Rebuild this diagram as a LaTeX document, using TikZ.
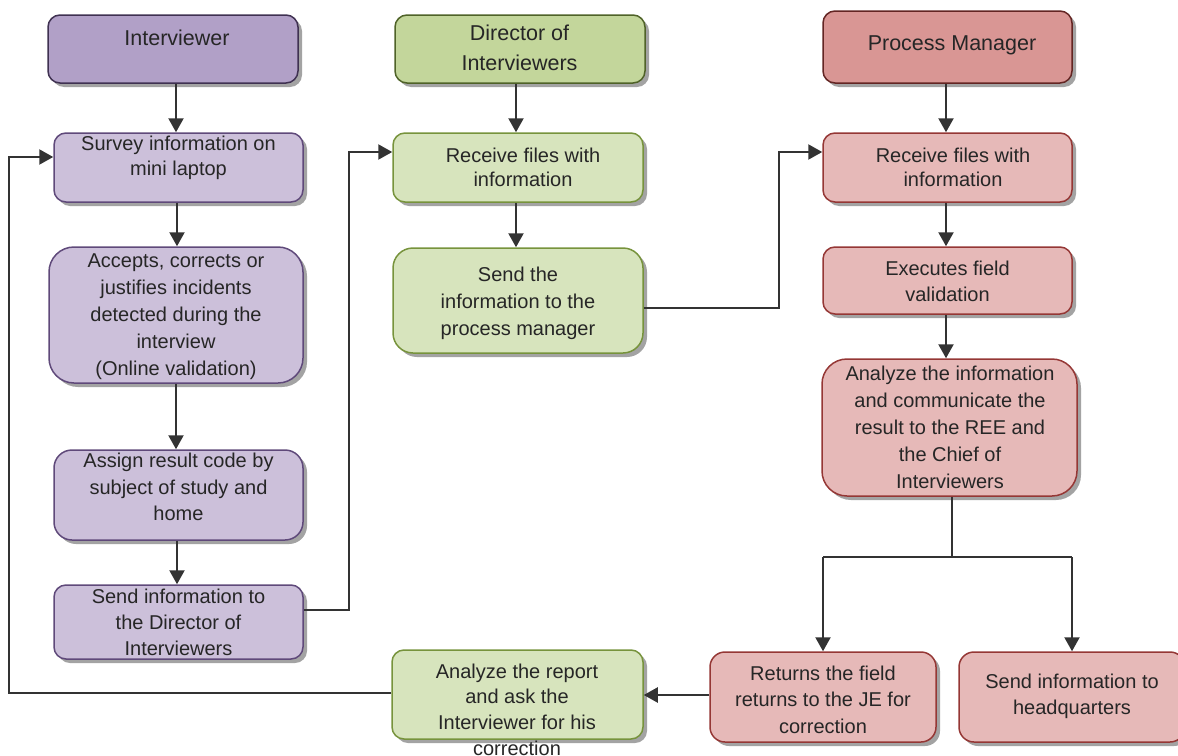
\documentclass[tikz,border=0pt]{standalone}
\usepackage{fontspec}
\setmainfont{Liberation Sans}
\usetikzlibrary{arrows.meta,shadows,calc}
\definecolor{pH}{HTML}{B1A0C7}
\definecolor{pHd}{HTML}{3F3151}
\definecolor{pL}{HTML}{CCC0DA}
\definecolor{pLd}{HTML}{5F497A}
\definecolor{gH}{HTML}{C3D69B}
\definecolor{gHd}{HTML}{4F6228}
\definecolor{gL}{HTML}{D7E4BD}
\definecolor{gLd}{HTML}{77933C}
\definecolor{rH}{HTML}{D99694}
\definecolor{rHd}{HTML}{632523}
\definecolor{rL}{HTML}{E6B9B8}
\definecolor{rLd}{HTML}{953735}
\definecolor{ln}{HTML}{333333}
\definecolor{tx}{HTML}{262626}
\begin{document}
\begin{tikzpicture}[x=1pt,y=-1pt,
  box/.style={rectangle, rounded corners=12pt, line width=1.5pt, inner sep=0pt,
    drop shadow={shadow xshift=4pt, shadow yshift=-4pt, fill=black!40, opacity=0.9}},
  purH/.style={box, fill=pH, draw=pHd},
  purL/.style={box, fill=pL, draw=pLd},
  grnH/.style={box, fill=gH, draw=gHd},
  grnL/.style={box, fill=gL, draw=gLd},
  redH/.style={box, fill=rH, draw=rHd},
  redL/.style={box, fill=rL, draw=rLd},
  txt/.style={align=center, text=tx, inner sep=0pt, font=\fontsize{20}{#1}\selectfont},
  htxt/.style={align=center, text=tx, inner sep=0pt, font=\fontsize{21.5}{#1}\selectfont},
  arr/.style={draw=ln, line width=2.2pt, -{Triangle[length=14pt,width=15pt]}},
  ln/.style={draw=ln, line width=2.2pt}]
\clip (0,0) rectangle (1178,755);

% ---------- Interviewer column ----------
\node[purH, minimum width=250pt, minimum height=68pt] (h1) at (173,49) {};
\node[htxt=26] (t1) at (177,38) {Interviewer};
\node[purL, minimum width=249pt, minimum height=69pt] (s1) at (178.5,167.5) {};
\node[txt=25] (ts1) at (178.5,158) {Survey information on\\mini laptop};
\node[purL, rounded corners=25pt, minimum width=254pt, minimum height=136pt] (s2) at (176,315) {};
\node[txt=27] (ts2) at (176,317) {Accepts, corrects or\\justifies incidents\\detected during the\\interview\\(Online validation)};
\node[purL, rounded corners=18pt, minimum width=249pt, minimum height=90pt] (s3) at (178.5,495) {};
\node[txt=26.5] (ts3) at (178.5,487) {Assign result code by\\subject of study and\\home};
\node[purL, minimum width=249pt, minimum height=74pt] (s4) at (178.5,622) {};
\node[txt=26] (ts4) at (178.5,622) {Send information to\\the Director of\\Interviewers};

% ---------- Director column ----------
\node[grnH, minimum width=250pt, minimum height=68pt] (h2) at (520,49) {};
\node[htxt=30] (t2) at (519.5,48) {Director of\\Interviewers};
\node[grnL, minimum width=250pt, minimum height=69pt] (g2) at (518,167.5) {};
\node[txt=23.5] (tg2) at (523,167.5) {Receive files with\\information};
\node[grnL, rounded corners=20pt, minimum width=250pt, minimum height=105pt] (g3) at (518,300.5) {};
\node[txt=27] (tg3) at (518,303) {Send the\\information to the\\process manager};
\node[grnL, minimum width=251pt, minimum height=89pt] (g4) at (517.5,694.5) {};
\node[txt=25.7] (tg4) at (517,709.5) {Analyze the report\\and ask the\\Interviewer for his\\correction};

% ---------- Process Manager column ----------
\node[redH, minimum width=249pt, minimum height=72pt] (h3) at (947.5,47) {};
\node[htxt=26] (t3) at (952,45) {Process Manager};
\node[redL, minimum width=249pt, minimum height=69pt] (r2) at (947.5,167.5) {};
\node[txt=23.5] (tr2) at (953,167.5) {Receive files with\\information};
\node[redL, minimum width=249pt, minimum height=67pt] (r3) at (947.5,280.5) {};
\node[txt=26] (tr3) at (947.5,281) {Executes field\\validation};
\node[redL, rounded corners=25pt, minimum width=255pt, minimum height=137pt] (r4) at (949.5,427.5) {};
\node[txt=27] (tr4) at (950,427.5) {Analyze the information\\and communicate the\\result to the REE and\\the Chief of\\Interviewers};
\node[redL, rounded corners=15pt, minimum width=226pt, minimum height=90pt] (r5) at (823,697) {};
\node[txt=26.5] (tr5) at (823,699.5) {Returns the field\\returns to the JE for\\correction};
\node[redL, rounded corners=15pt, minimum width=226pt, minimum height=90pt] (r6) at (1072,697) {};
\node[txt=26] (tr6) at (1072,696) {Send information to\\headquarters};

% ---------- connectors ----------
\coordinate (a1) at (176,0);
\draw[arr] (h1.south -| a1) -- (s1.north -| a1);
\coordinate (a2) at (177,0);
\draw[arr] (s1.south -| a2) -- (s2.north -| a2);
\draw[arr] (s2.south -| a1) -- (s3.north -| a1);
\draw[arr] (s3.south -| a2) -- (s4.north -| a2);

\coordinate (a3) at (516,0);
\draw[arr] (h2.south -| a3) -- (g2.north -| a3);
\draw[arr] (g2.south -| a3) -- (g3.north -| a3);

\coordinate (a4) at (946,0);
\draw[arr] (h3.south -| a4) -- (r2.north -| a4);
\draw[arr] (r2.south -| a4) -- (r3.north -| a4);
\draw[arr] (r3.south -| a4) -- (r4.north -| a4);

% Interviewer -> Director
\coordinate (j1) at (349,610);
\coordinate (k1) at (349,152);
\draw[arr] (s4.east |- j1) -- (j1) -- (k1) -- (k1 -| g2.west);

% Director -> Process Manager
\coordinate (j2) at (779,308);
\coordinate (k2) at (779,152);
\draw[arr] (g3.east |- j2) -- (j2) -- (k2) -- (k2 -| r2.west);

% branch
\coordinate (b0) at (952,557);
\coordinate (bl) at (823,557);
\coordinate (br) at (1072,557);
\draw[ln] (r4.south -| b0) -- (b0);
\draw[ln] (bl) -- (br);
\draw[arr] (bl) -- (r5.north -| bl);
\draw[arr] (br) -- (r6.north -| br);

% Returns -> Analyze report
\coordinate (j3) at (0,695);
\draw[arr] (r5.west |- j3) -- (g4.east |- j3);

% Analyze report -> Survey
\coordinate (j4) at (9,693);
\coordinate (k4) at (9,157);
\draw[arr] (g4.west |- j4) -- (j4) -- (k4) -- (k4 -| s1.west);
\end{tikzpicture}
\end{document}
